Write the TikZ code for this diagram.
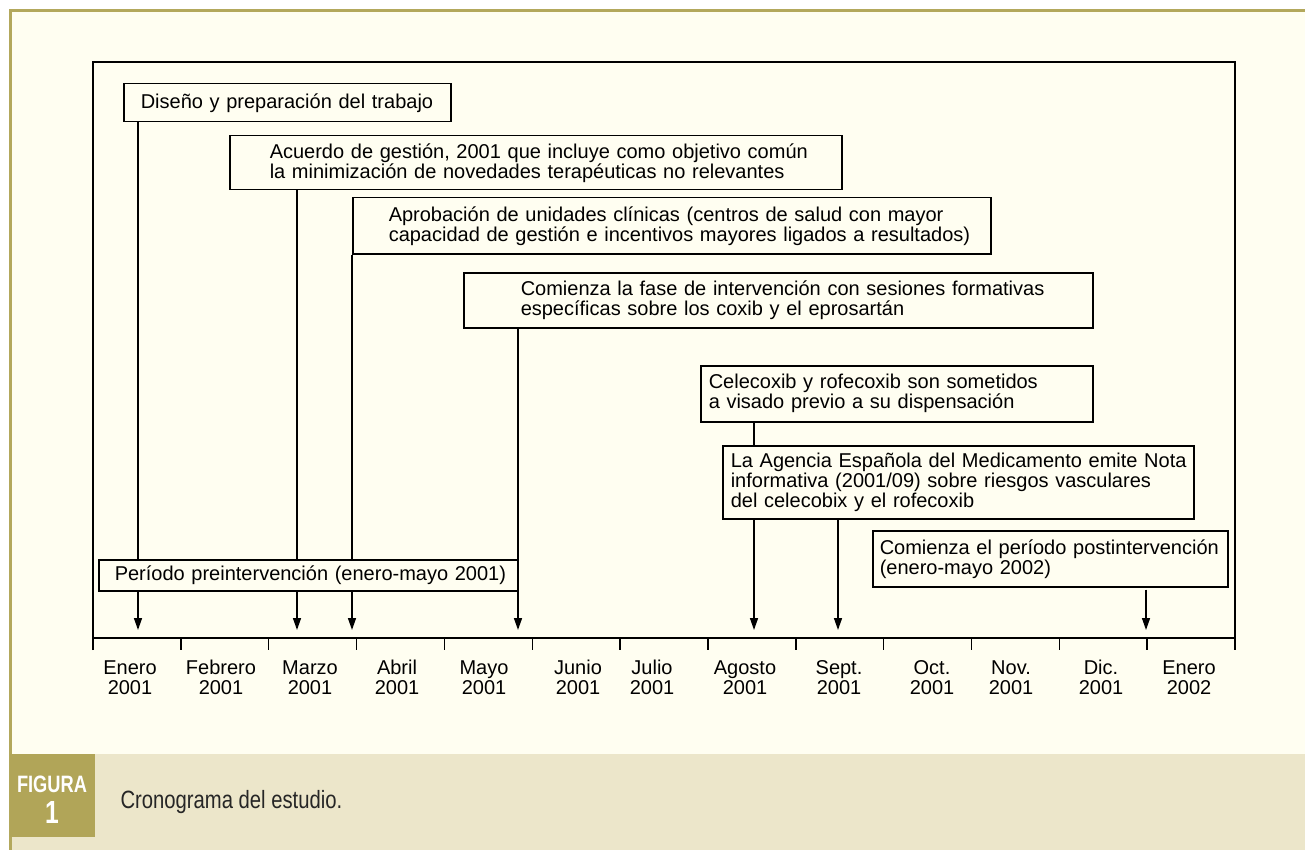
\documentclass[tikz,border=0pt]{standalone}
\usepackage{fontspec}
\setmainfont{Liberation Sans}
\newfontfamily\capfont[FakeStretch=0.81]{Liberation Sans}
\newfontfamily\figfont[FakeStretch=0.77]{Liberation Sans}
\usetikzlibrary{arrows.meta}

\definecolor{cream}{HTML}{FFFEF1}
\definecolor{olive}{HTML}{B3A85C}
\definecolor{band}{HTML}{ECE6CA}
\definecolor{figbox}{HTML}{B1A558}

\begin{document}
\begin{tikzpicture}[
      x=1pt, y=-1pt,
      evbox/.style={rectangle, draw, fill=cream, anchor=north west,
      align=left, inner xsep=0pt, inner ysep=0pt, line width=1.5pt,
      font=\fontsize{20}{20}\selectfont},
      month/.style={anchor=north, align=center, inner sep=0pt,
      font=\fontsize{20}{20}\selectfont},
      line/.style={draw, -{Triangle[width=8pt, length=12pt]}, line width=1.5pt},
      link/.style={draw, line width=1.5pt}
    ]
    \useasboundingbox (0,0) rectangle (1305,850);
    \fill[white] (0,0) rectangle (1305,850);
    \fill[cream] (10,10) rectangle (1305,754);
    \fill[band] (10,754) rectangle (1305,850);
    \draw[olive, line width=2.7pt] (10.7,850) -- (10.7,10.7) -- (1305,10.7);
    \fill[figbox] (10,754) rectangle (95,837);

    \draw[line width=2pt] (93,650) -- (93,62) -- (1235,62) -- (1235,650);
    \draw[line width=2pt] (93,638) -- (1235,638);
    \foreach \i in {1,...,12}
      \draw[line width=1.5pt] (93+\i*87.85,638) -- ++(0,12);

    \node [evbox, text width=327pt, minimum height=38pt] (dis) at (123,83)
      {\hspace*{17pt}Diseño y preparación del trabajo};
    \node [evbox, text width=612pt, minimum height=54pt] (acu) at (229,135)
      {\hspace*{40pt}Acuerdo de gestión, 2001 que incluye como objetivo común\\
      \hspace*{40pt}la minimización de novedades terapéuticas no relevantes};
    \node [evbox, text width=638pt, minimum height=56pt] (apr) at (352,197)
      {\hspace*{36pt}Aprobación de unidades clínicas (centros de salud con mayor\\
      \hspace*{36pt}capacidad de gestión e incentivos mayores ligados a resultados)};
    \node [evbox, text width=629pt, minimum height=55pt] (fase) at (463,272)
      {\hspace*{57pt}Comienza la fase de intervención con sesiones formativas\\
      \hspace*{57pt}específicas sobre los coxib y el eprosartán};
    \node [evbox, text width=392pt, minimum height=56pt] (cel) at (700,365)
      {\hspace*{8pt}Celecoxib y rofecoxib son sometidos\\
      \hspace*{8pt}a visado previo a su dispensación};
    \node [evbox, text width=471pt, minimum height=73pt] (age) at (722,445)
      {\hspace*{8pt}La Agencia Española del Medicamento emite Nota\\
      \hspace*{8pt}informativa (2001/09) sobre riesgos vasculares\\
      \hspace*{8pt}del celecobix y el rofecoxib};
    \node [evbox, text width=355pt, minimum height=56pt] (post) at (872,530)
      {\hspace*{7pt}Comienza el período postintervención\\
      \hspace*{7pt}(enero-mayo 2002)};
    \node [evbox, text width=419pt, minimum height=31pt] (pre) at (98,559)
      {\hspace*{16pt}Período preintervención (enero-mayo 2001)};

    \coordinate (a1) at (138,630);
    \coordinate (a2) at (297,630);
    \coordinate (a3) at (352,630);
    \coordinate (a4) at (518,630);
    \coordinate (a5) at (754,630);
    \coordinate (a6) at (838,630);
    \coordinate (a7) at (1146,630);

    \path [link] (dis.south -| a1) -- (pre.north -| a1);
    \path [line] (pre.south -| a1) -- (a1);
    \path [link] (acu.south -| a2) -- (pre.north -| a2);
    \path [line] (pre.south -| a2) -- (a2);
    \path [link] (apr.south -| a3) -- (pre.north -| a3);
    \path [line] (pre.south -| a3) -- (a3);
    \path [line] (fase.south -| a4) -- (a4);
    \path [link] (cel.south -| a5) -- (age.north -| a5);
    \path [line] (age.south -| a5) -- (a5);
    \path [line] (age.south -| a6) -- (a6);
    \path [line, shorten <=2pt] (post.south -| a7) -- (a7);

    \foreach \x/\m/\yr [count=\k] in {130/Enero/2001, 221/Febrero/2001,
      310/Marzo/2001, 397/Abril/2001, 484/Mayo/2001, 578/Junio/2001,
      652/Julio/2001, 745/Agosto/2001, 839/Sept./2001, 932/Oct./2001,
      1011/Nov./2001, 1101/Dic./2001, 1189/Enero/2002}
      \node [month] (m\k) at (\x,659) {\rule{0pt}{15pt}\m\\\yr};

    \node [anchor=base, text=white, font=\figfont\bfseries\fontsize{23.7}{24}\selectfont]
      (fig) at (52,792) {FIGURA};
    \node [anchor=base, text=white, font=\figfont\bfseries\fontsize{32}{32}\selectfont]
      (num) at (52,823) {1};
    \node [anchor=base west, text=black!85, font=\capfont\fontsize{25}{25}\selectfont]
      (cap) at (117,808) {Cronograma del estudio.};
  \end{tikzpicture}
\end{document}
